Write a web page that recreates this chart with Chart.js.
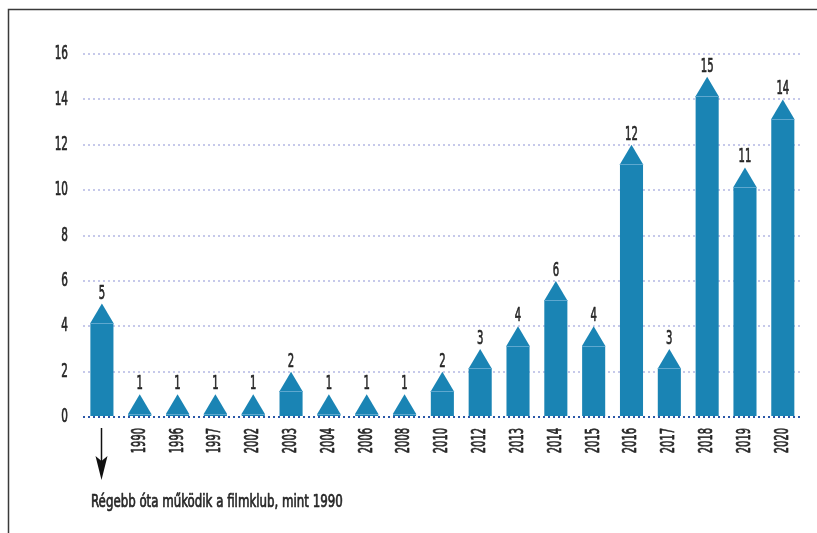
<!DOCTYPE html>
<html>
<head>
<meta charset="utf-8">
<script src="https://cdn.jsdelivr.net/npm/chart.js@4/dist/chart.umd.min.js"></script>
<style>
  html, body { margin: 0; padding: 0; background: #ffffff; }
  #wrap { position: relative; width: 817px; height: 533px; }
</style>
</head>
<body>
<div id="wrap"><canvas id="c" width="817" height="533"></canvas></div>
<script>
// ---- data ----
const categories = ['', '1990', '1996', '1997', '2002', '2003', '2004', '2006', '2008', '2010', '2012', '2013', '2014', '2015', '2016', '2017', '2018', '2019', '2020'];
const counts = [5, 1, 1, 1, 1, 2, 1, 1, 1, 2, 3, 4, 6, 4, 12, 3, 15, 11, 14];
const yTicks = [0, 2, 4, 6, 8, 10, 12, 14, 16];
const noteText = 'Régebb óta működik a filmklub, mint 1990';

const FONT = "'DejaVu Sans Condensed', 'DejaVu Sans', sans-serif";
const BAR = '#1a84b4';
const SHOULDER = '#5ea8cf';
const TEXT = '#262626';
const DIGIT_SX = 0.58;

// condensed, medium-weight text rendering: squeeze glyph runs horizontally around their anchor
const canvas = document.getElementById('c');
const ctx2d = canvas.getContext('2d');
ctx2d._sx = DIGIT_SX;
const origFillText = ctx2d.fillText.bind(ctx2d);
const origStrokeText = ctx2d.strokeText.bind(ctx2d);
ctx2d.fillText = function (text, x, y, maxW) {
  const sx = this._sx || 1;
  this.save();
  this.translate(x, y);
  this.scale(sx, 1);
  origFillText(text, 0, 0);
  this.strokeStyle = this.fillStyle;
  this.lineWidth = 0.7;
  this.lineJoin = 'round';
  origStrokeText(text, 0, 0);
  this.restore();
};

const arrowBars = {
  id: 'arrowBars',
  afterDatasetsDraw(chart) {
    const ctx = chart.ctx;
    const meta = chart.getDatasetMeta(0);
    ctx.save();
    meta.data.forEach((el, i) => {
      const p = el.getProps(['x', 'y', 'base', 'width'], true);
      const w = p.width, l = p.x - w / 2, r = p.x + w / 2;
      const th = Math.min(19.5, p.base - p.y);
      ctx.fillStyle = BAR;
      ctx.beginPath();
      ctx.moveTo(l, p.base);
      ctx.lineTo(l, p.y + th);
      ctx.lineTo(p.x, p.y);
      ctx.lineTo(r, p.y + th);
      ctx.lineTo(r, p.base);
      ctx.closePath();
      ctx.fill();
      // light shoulder line
      ctx.strokeStyle = SHOULDER;
      ctx.lineWidth = 1;
      ctx.beginPath();
      ctx.moveTo(l, Math.round(p.y + th) + 0.5);
      ctx.lineTo(r, Math.round(p.y + th) + 0.5);
      ctx.stroke();
      // value label
      ctx._sx = 0.56;
      ctx.fillStyle = TEXT;
      ctx.font = "20px " + FONT;
      ctx.textAlign = 'center';
      ctx.textBaseline = 'alphabetic';
      ctx.fillText(String(counts[i]), p.x, p.y - 5);
    });
    // arrow under first category
    const xs = chart.scales.x;
    const ax = Math.round(xs.getPixelForValue(0)) - 0.5;
    ctx.strokeStyle = '#111';
    ctx.fillStyle = '#111';
    ctx.lineWidth = 1.5;
    ctx.beginPath();
    ctx.moveTo(ax, 428);
    ctx.lineTo(ax, 462);
    ctx.stroke();
    ctx.beginPath();
    ctx.moveTo(ax - 6, 456);
    ctx.lineTo(ax, 480);
    ctx.lineTo(ax + 6, 456);
    ctx.lineTo(ax, 461);
    ctx.closePath();
    ctx.fill();
    // note
    ctx._sx = 0.75;
    ctx.fillStyle = TEXT;
    ctx.font = "17.5px " + FONT;
    ctx.textAlign = 'left';
    ctx.textBaseline = 'alphabetic';
    ctx.fillText(noteText, 91, 507);
    ctx._sx = DIGIT_SX;
    // frame
    ctx.strokeStyle = '#3a3a3a';
    ctx.lineWidth = 1.5;
    ctx.beginPath();
    ctx.moveTo(817, 9.5);
    ctx.lineTo(8.5, 9.5);
    ctx.lineTo(8.5, 533);
    ctx.stroke();
    ctx.restore();
  }
};

new Chart(canvas, {
  type: 'bar',
  data: {
    labels: categories,
    datasets: [{
      data: counts,
      backgroundColor: 'rgba(0,0,0,0)',
      borderWidth: 0,
      barPercentage: 0.61,
      categoryPercentage: 1.0
    }]
  },
  options: {
    responsive: false,
    animation: false,
    devicePixelRatio: 1,
    layout: { padding: { top: 54, right: 15, left: 0, bottom: 0 } },
    plugins: { legend: { display: false }, tooltip: { enabled: false } },
    scales: {
      x: {
        afterFit(s) { s.height = 116; },
        grid: { display: false, drawTicks: false },
        border: { display: false },
        ticks: {
          minRotation: 90, maxRotation: 90, padding: 11, autoSkip: false,
          color: TEXT, font: { family: FONT, size: 19 }
        }
      },
      y: {
        min: 0, max: 16,
        afterFit(s) { s.width = 83; },
        afterBuildTicks(s) { s.ticks = yTicks.map(v => ({ value: v })); },
        grid: {
          drawTicks: false,
          color: (c) => c.tick && c.tick.value === 0 ? '#2a57a8' : '#c6c9ea',
          lineWidth: 2
        },
        border: { display: false, dash: [2, 3] },
        ticks: { padding: 15, color: TEXT, font: { family: FONT, size: 20 } }
      }
    }
  },
  plugins: [arrowBars]
});
</script>
</body>
</html>
